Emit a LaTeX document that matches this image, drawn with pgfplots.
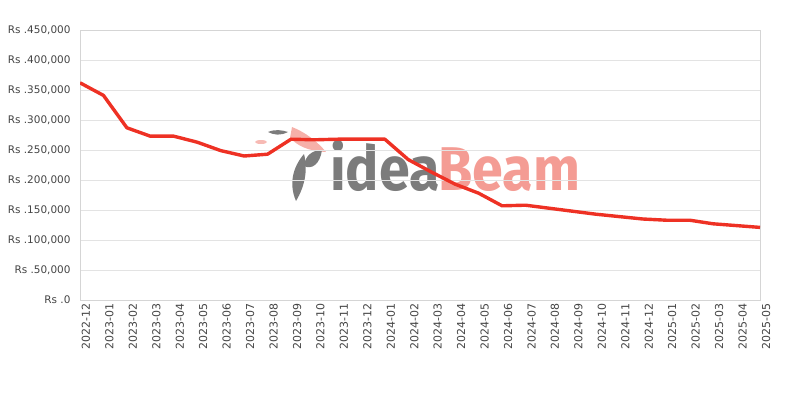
\documentclass[border=0pt]{standalone}
\usepackage{fontspec}
\setmainfont{DejaVu Sans}
\newfontfamily\wmfont{Fira Sans}
\usepackage{pgfplots}
\pgfplotsset{compat=1.18}
\definecolor{linered}{HTML}{EE3124}
\definecolor{gridgray}{HTML}{E3E3E3}
\definecolor{axgray}{HTML}{D5D5D5}
\definecolor{txtgray}{HTML}{444444}
\definecolor{wmgray}{HTML}{7C7C7C}
\definecolor{wmred}{HTML}{F49C94}
\pgfplotstableread{
x y
0 362000
1 341000
2 287000
3 273000
4 273000
5 263000
6 249000
7 240000
8 243000
9 268000
10 267000
11 268000
12 268000
13 268000
14 234000
15 213000
16 193000
17 178000
18 157000
19 158000
20 153000
21 148000
22 143000
23 139000
24 135000
25 133000
26 133000
27 127000
28 124000
29 121000
}\pricedata
\begin{document}
\begin{tikzpicture}[x=1bp,y=1bp]
\useasboundingbox (0,0) rectangle (800,400);
% watermark
\fill[wmgray] (296,199) .. controls (289,215) and (292,232) .. (304,246) .. controls (308,230) and (305,214) .. (296,199) -- cycle;
\fill[wmred!80] (292,273) .. controls (305,268) and (318,258) .. (326,248) .. controls (308,249) and (298,254) .. (290,262) -- cycle;
\fill[wmgray] (268,268) .. controls (275,271) and (282,270) .. (288,268) .. controls (280,264) and (274,265) .. (268,268) -- cycle;
\fill[wmred!70] (261,258) ellipse [x radius=6, y radius=2];
\fill[wmgray] (304,234) .. controls (312,230) and (320,236) .. (322,250) .. controls (312,250) and (305,244) .. (304,234) -- cycle;
\node[anchor=base west, inner sep=0pt, text=wmgray] at (330,210) {\scalebox{0.9}[1]{\wmfont\bfseries\fontsize{62}{62}\selectfont idea}};
\node[anchor=base west, inner sep=0pt, text=wmred] at (438,210) {\scalebox{0.9}[1]{\wmfont\bfseries\fontsize{62}{62}\selectfont Beam}};
\begin{axis}[
  at={(80bp,100bp)}, anchor=south west,
  scale only axis, width=680bp, height=270bp,
  xmin=0, xmax=29, ymin=0, ymax=450000,
  xtick={0,...,29},
  xticklabels={2022-12,2023-01,2023-02,2023-03,2023-04,2023-05,2023-06,2023-07,2023-08,2023-09,2023-10,2023-11,2023-12,2024-01,2024-02,2024-03,2024-04,2024-05,2024-06,2024-07,2024-08,2024-09,2024-10,2024-11,2024-12,2025-01,2025-02,2025-03,2025-04,2025-05},
  ytick={0,50000,...,450000},
  scaled y ticks=false,
  yticklabel={Rs .\pgfmathprintnumber[fixed,precision=0,1000 sep={,}]{\tick}},
  /pgf/number format/assume math mode=true,
  ymajorgrids, grid style={gridgray, line width=0.8bp},
  axis line style={axgray, line width=0.8bp},
  major tick length=0pt,
  x tick label style={font=\fontsize{11}{13}\selectfont, text=txtgray, rotate=90, anchor=east, yshift=-6bp},
  y tick label style={font=\fontsize{10.5}{12}\selectfont, text=txtgray, xshift=-6bp},
]
\addplot[linered, line width=3.4bp, line join=round] table[x=x,y=y]{\pricedata};
\end{axis}
\end{tikzpicture}
\end{document}
